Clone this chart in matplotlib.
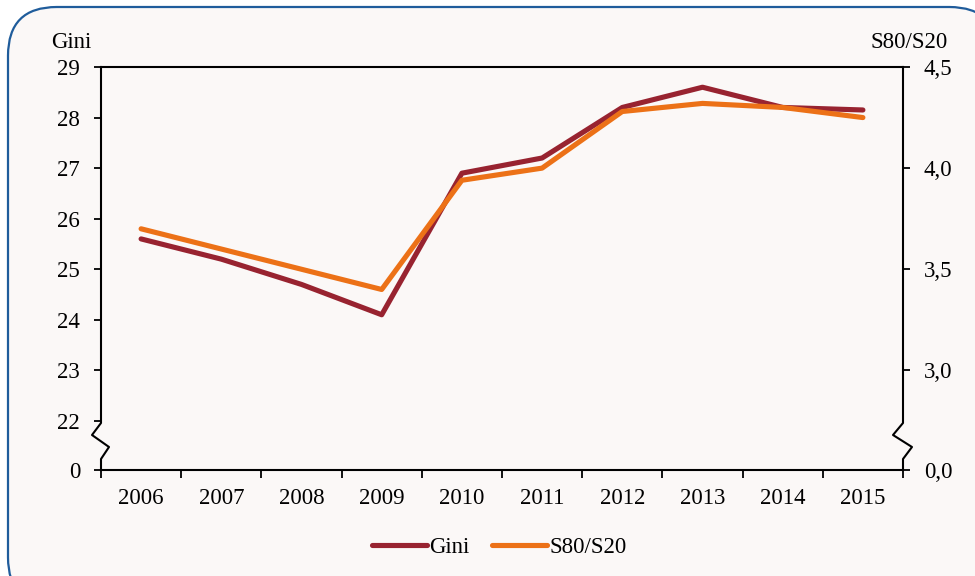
import matplotlib.pyplot as plt
from matplotlib.patches import FancyBboxPatch
from matplotlib.lines import Line2D

plt.rcParams['font.family'] = ['Liberation Serif', 'DejaVu Serif']

years = ['2006', '2007', '2008', '2009', '2010', '2011', '2012', '2013', '2014', '2015']
gini = [25.6, 25.2, 24.7, 24.1, 26.9, 27.2, 28.2, 28.6, 28.2, 28.15]
s80s20 = [3.70, 3.60, 3.50, 3.40, 3.94, 4.00, 4.28, 4.32, 4.30, 4.25]

gini_ticks = [22, 23, 24, 25, 26, 27, 28, 29]
s_ticks = [3.0, 3.5, 4.0, 4.5]

GINI_COLOR = '#982330'
S_COLOR = '#EC7117'
BG = '#FBF8F7'
FS = 16.5
LW = 3.7

W, H = 975, 576
fig = plt.figure(figsize=(W / 100, H / 100), dpi=100, facecolor='white')

# rounded frame, cut by the right and bottom of the picture
box = FancyBboxPatch((8 / W, -30 / H), 990 / W, (H - 7 + 30) / H,
                     boxstyle='round,pad=0,rounding_size=0.05',
                     transform=fig.transFigure, facecolor=BG,
                     edgecolor='#1F5C9B', linewidth=1.6, mutation_aspect=W / H,
                     zorder=-10)
fig.patches.append(box)

ax = fig.add_axes([101 / W, 1 - 470 / H, 802 / W, 403 / H])
ax.set_facecolor('none')

# axis break: the "0" sits just under 22
y0 = 21.03
ax.set_ylim(y0, 29)
ax.set_xlim(-0.5, len(years) - 0.5)

x = list(range(len(years)))
ax.plot(x, gini, color=GINI_COLOR, lw=LW, solid_capstyle='round', zorder=3)

ax2 = ax.twinx()
ax2.set_facecolor('none')
# right axis aligned so 3.0 <-> 23 and 4.5 <-> 29
r0 = 3.0 - (23 - y0) * 0.25
ax2.set_ylim(r0, 4.5)
ax2.plot(x, s80s20, color=S_COLOR, lw=LW, solid_capstyle='round', zorder=3)

ax.set_yticks([y0] + gini_ticks)
ax.set_yticklabels(['0'] + [str(t) for t in gini_ticks], fontsize=FS)
ax2.set_yticks([r0] + s_ticks)
ax2.set_yticklabels(['0,0'] + [f'{t:.1f}'.replace('.', ',') for t in s_ticks], fontsize=FS)

ax.set_xticks([i - 0.5 for i in range(len(years) + 1)])
ax.set_xticklabels([])
ax.set_xticks(x, minor=True)
ax.set_xticklabels(years, minor=True, fontsize=FS)
ax.tick_params(axis='x', which='major', direction='out', length=6, width=1.3)
ax.tick_params(axis='x', which='minor', length=0, pad=13)
ax.tick_params(axis='y', direction='out', length=5, width=1.3, pad=10)
ax2.tick_params(axis='y', direction='out', length=5, width=1.3, pad=10)

for a in (ax, ax2):
    for s in a.spines.values():
        s.set_linewidth(1.5)
    a.spines['left'].set_visible(False)
    a.spines['right'].set_visible(False)
ax2.spines['top'].set_visible(False)
ax2.spines['bottom'].set_visible(False)

# spines with zigzag breaks, in axes fraction
def frac_y(px):
    return (470 - px) / 403

def frac_x(px):
    return (px - 101) / 802

zz_y = [67, 423, 435, 447, 459, 470]
left_x = [101, 101, 92, 109, 101, 101]
right_x = [903, 903, 893, 912, 903, 903]
ax.add_line(Line2D([frac_x(v) for v in left_x], [frac_y(v) for v in zz_y],
                   transform=ax.transAxes, color='black', lw=1.5, clip_on=False))
ax.add_line(Line2D([frac_x(v) for v in right_x], [frac_y(v) for v in zz_y],
                   transform=ax.transAxes, color='black', lw=1.5, clip_on=False))

fig.text(71 / W, 1 - 43 / H, 'Gini', fontsize=FS, ha='center', va='center')
fig.text(948 / W, 1 - 42 / H, 'S80/S20', fontsize=FS, ha='right', va='center')

handles = [Line2D([], [], color=GINI_COLOR, lw=LW, solid_capstyle='round'),
           Line2D([], [], color=S_COLOR, lw=LW, solid_capstyle='round')]
fig.legend(handles, ['Gini', 'S80/S20'], loc='center', bbox_to_anchor=(499 / W, 1 - 547 / H),
           ncol=2, frameon=False, fontsize=FS, handlelength=2.4, handletextpad=0.1,
           columnspacing=1.0)

fig.savefig('out.png', dpi=100, facecolor='white')
